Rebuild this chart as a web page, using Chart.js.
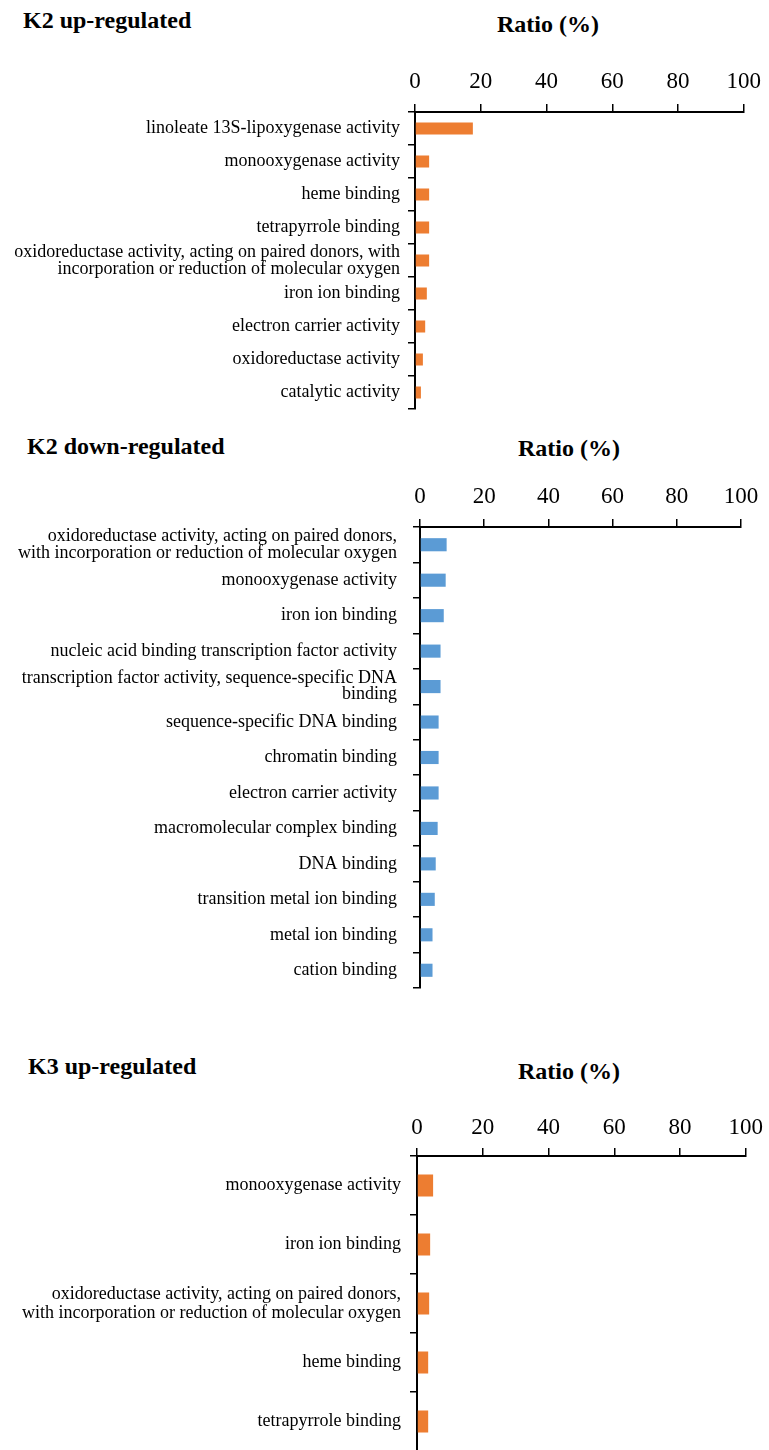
<!DOCTYPE html>
<html>
<head>
<meta charset="utf-8">
<script src="https://cdn.jsdelivr.net/npm/chart.js@4.4.0/dist/chart.umd.min.js"></script>
<style>
  body { margin: 0; width: 769px; height: 1450px; overflow: hidden; background: #fff; position: relative;
         font-family: "Liberation Serif", "Times New Roman", serif; }
  .t { position: absolute; font-weight: bold; font-size: 24px; line-height: 24px; white-space: nowrap; color: #000; }
  .box { position: absolute; left: 0; width: 769px; }
</style>
</head>
<body>
<div class="t" style="left:23px;top:8px">K2 up-regulated</div>
<div class="t" style="left:497px;top:12px">Ratio (%)</div>
<div class="box" style="top:52px"><canvas id="c1" width="769" height="361"></canvas></div>

<div class="t" style="left:27px;top:434px">K2 down-regulated</div>
<div class="t" style="left:518px;top:436px">Ratio (%)</div>
<div class="box" style="top:467px"><canvas id="c2" width="769" height="525"></canvas></div>

<div class="t" style="left:28px;top:1054px">K3 up-regulated</div>
<div class="t" style="left:518px;top:1059px">Ratio (%)</div>
<div class="box" style="top:1096px"><canvas id="c3" width="769" height="359"></canvas></div>

<script>
// x axis ticks (Ratio %)
const xTicks = [0, 20, 40, 60, 80, 100];

// K2 up-regulated
const k2UpTerms = [
  "linoleate 13S-lipoxygenase activity",
  "monooxygenase activity",
  "heme binding",
  "tetrapyrrole binding",
  ["oxidoreductase activity, acting on paired donors, with", "incorporation or reduction of molecular oxygen"],
  "iron ion binding",
  "electron carrier activity",
  "oxidoreductase activity",
  "catalytic activity"
];
const k2UpRatio = [17.6, 4.3, 4.3, 4.3, 4.3, 3.6, 3.1, 2.4, 1.8];

// K2 down-regulated
const k2DownTerms = [
  ["oxidoreductase activity, acting on paired donors,", "with incorporation or reduction of molecular oxygen"],
  "monooxygenase activity",
  "iron ion binding",
  "nucleic acid binding transcription factor activity",
  ["transcription factor activity, sequence-specific DNA", "binding"],
  "sequence-specific DNA binding",
  "chromatin binding",
  "electron carrier activity",
  "macromolecular complex binding",
  "DNA binding",
  "transition metal ion binding",
  "metal ion binding",
  "cation binding"
];
const k2DownRatio = [8.3, 8.0, 7.4, 6.4, 6.4, 5.8, 5.8, 5.8, 5.5, 4.9, 4.6, 3.9, 3.9];

// K3 up-regulated
const k3UpTerms = [
  "monooxygenase activity",
  "iron ion binding",
  ["oxidoreductase activity, acting on paired donors,", "with incorporation or reduction of molecular oxygen"],
  "heme binding",
  "tetrapyrrole binding"
];
const k3UpRatio = [4.9, 4.0, 3.7, 3.4, 3.4];

const orange = "#ED7D31";
const blue = "#5B9BD5";

function makeChart(id, labels, values, color, o) {
  return new Chart(document.getElementById(id), {
    type: "bar",
    data: {
      labels: labels,
      datasets: [{
        data: values,
        backgroundColor: color,
        barPercentage: o.bar,
        categoryPercentage: 1
      }]
    },
    options: {
      indexAxis: "y",
      responsive: false,
      animation: false,
      layout: { padding: { left: 0, right: o.right, top: 0, bottom: 4 } },
      plugins: { legend: { display: false }, tooltip: { enabled: false } },
      scales: {
        x: {
          position: "top",
          min: 0,
          max: 100,
          afterBuildTicks: function (s) {
            s.ticks = xTicks.map(function (v) { return { value: v }; });
          },
          afterFit: function (s) { s.height = 60; },
          ticks: {
            color: "#000",
            padding: o.tickPad,
            maxRotation: 0,
            font: { family: "Liberation Serif", size: 23 }
          },
          grid: { drawOnChartArea: false, tickLength: 8, color: "#000", lineWidth: 1.5 },
          border: { color: "#000", width: 2 }
        },
        y: {
          afterFit: function (s) {
            s.width = o.left;
            s.paddingTop = 0;
            s.paddingBottom = 0;
          },
          ticks: {
            color: "#000",
            padding: o.labelPad,
            autoSkip: false,
            font: { family: "Liberation Serif", size: 18, lineHeight: o.lh }
          },
          grid: { drawOnChartArea: false, tickLength: 7, color: "#000", lineWidth: 1.5 },
          border: { color: "#000", width: 2 }
        }
      }
    }
  });
}

makeChart("c1", k2UpTerms, k2UpRatio, orange, { bar: 0.36, right: 24, left: 415, tickPad: 8, labelPad: 8, lh: 0.95 });
makeChart("c2", k2DownTerms, k2DownRatio, blue, { bar: 0.37, right: 28, left: 420, tickPad: 8, labelPad: 16, lh: 0.9 });
makeChart("c3", k3UpTerms, k3UpRatio, orange, { bar: 0.37, right: 22, left: 417, tickPad: 6, labelPad: 9, lh: 1.05 });
</script>
</body>
</html>
